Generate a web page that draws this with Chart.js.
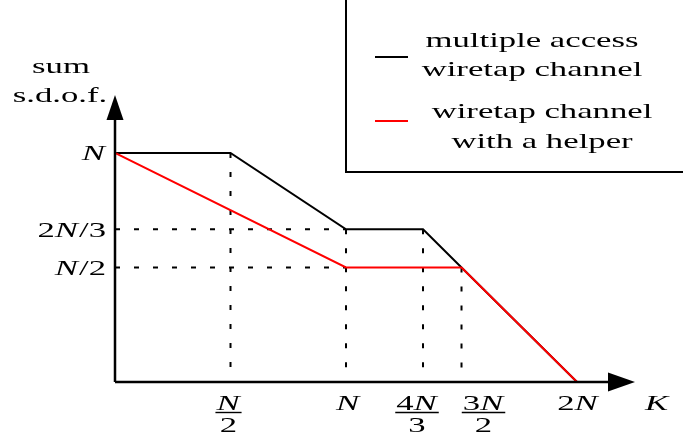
<!DOCTYPE html>
<html>
<head>
<meta charset="utf-8">
<script src="https://cdn.jsdelivr.net/npm/chart.js@4/dist/chart.umd.min.js"></script>
<style>
  html, body { margin: 0; padding: 0; background: #fff; }
  #wrap { width: 683px; height: 438px; position: relative; }
</style>
</head>
<body>
<div id="wrap"><canvas id="sdofChart"></canvas></div>
<script>
// Sum secure d.o.f. versus K (both axes in units of N)

const kBreaks = [0, 0.5, 1, 4/3, 1.5, 2];      // multiple access wiretap channel
const macSdof = [1, 1, 2/3, 2/3, 0.5, 0];
const helperK = [0, 1, 1.5, 2];                // wiretap channel with a helper
const helperSdof = [1, 0.5, 0.5, 0];

const xTickValues = [0.5, 1, 4/3, 1.5, 2];
const xTickLabels = ['N/2', 'N', '4N/3', '3N/2', '2N'];
const yTickValues = [1, 2/3, 0.5];
const yTickLabels = ['N', '2N/3', 'N/2'];

// dotted guide lines
const guideK = [0.5, 1, 4/3, 1.5];
const guideSdof = [1, 2/3, 2/3, 0.5];
const hGuideSdof = [2/3, 0.5];
const hGuideEndK = [1, 1];

const seriesNames = [['multiple access', 'wiretap channel'], ['wiretap channel', 'with a helper']];
const seriesColors = ['#000000', '#ff0000'];

const FONT = '22px "Liberation Serif"';
let S = 1; // horizontal stretch of the text

function drawMath(ctx, str, x, y, align) {
    const runs = str.split('').map(ch => ({ t: ch, it: /[A-Za-z]/.test(ch) }));
    let w = 0;
    runs.forEach(r => {
        ctx.font = (r.it ? 'italic ' : '') + FONT;
        r.w = ctx.measureText(r.t).width * S + (r.it ? 1 : 0);
        w += r.w;
    });
    let cx = align === 'right' ? x - w : align === 'center' ? x - w / 2 : x;
    runs.forEach(r => {
        ctx.font = (r.it ? 'italic ' : '') + FONT;
        ctx.save();
        ctx.translate(cx, y);
        ctx.scale(S, 1);
        ctx.textAlign = 'left';
        ctx.fillText(r.t, 0, 0);
        ctx.restore();
        cx += r.w;
    });
    return w;
}

function drawText(ctx, str, x, y) {
    ctx.font = FONT;
    ctx.save();
    ctx.translate(x, y);
    ctx.scale(S, 1);
    ctx.textAlign = 'center';
    ctx.fillText(str, 0, 0);
    ctx.restore();
}

const xLabelShift = [-2, 2, -6, 22, 1];

const figurePlugin = {
    id: 'figure',
    beforeDatasetsDraw(chart) {
        const ctx = chart.ctx;
        const xs = chart.scales.x, ys = chart.scales.y;
        ctx.save();
        ctx.strokeStyle = '#000';
        ctx.lineWidth = 2;
        ctx.setLineDash([5, 14]);
        guideK.forEach((k, i) => {
            ctx.beginPath();
            ctx.moveTo(xs.getPixelForValue(k), ys.getPixelForValue(guideSdof[i]));
            ctx.lineTo(xs.getPixelForValue(k), ys.getPixelForValue(0));
            ctx.stroke();
        });
        hGuideSdof.forEach((v, i) => {
            ctx.beginPath();
            ctx.moveTo(xs.getPixelForValue(0), ys.getPixelForValue(v));
            ctx.lineTo(xs.getPixelForValue(hGuideEndK[i]), ys.getPixelForValue(v));
            ctx.stroke();
        });
        ctx.restore();
    },
    afterDatasetsDraw(chart) {
        const ctx = chart.ctx;
        const xs = chart.scales.x, ys = chart.scales.y;
        const area = chart.chartArea;
        const x0 = xs.getPixelForValue(0), y0 = ys.getPixelForValue(0);

        ctx.save();
        ctx.font = FONT;
        S = 213 / ctx.measureText('multiple access').width;

        // axes with arrow heads
        ctx.strokeStyle = '#000';
        ctx.fillStyle = '#000';
        ctx.lineWidth = 2.5;
        ctx.beginPath();
        ctx.moveTo(x0, y0);
        ctx.lineTo(area.right - 20, y0);
        ctx.moveTo(x0, y0);
        ctx.lineTo(x0, area.top + 20);
        ctx.stroke();
        ctx.beginPath();
        ctx.moveTo(area.right, y0);
        ctx.lineTo(area.right - 27, y0 - 9.5);
        ctx.lineTo(area.right - 27, y0 + 9.5);
        ctx.closePath();
        ctx.fill();
        ctx.beginPath();
        ctx.moveTo(x0, area.top);
        ctx.lineTo(x0 - 8.5, area.top + 25);
        ctx.lineTo(x0 + 8.5, area.top + 25);
        ctx.closePath();
        ctx.fill();

        // y tick labels
        ctx.textBaseline = 'alphabetic';
        yTickValues.forEach((v, i) => {
            drawMath(ctx, yTickLabels[i], x0 - 9, ys.getPixelForValue(v) + 7.5, 'right');
        });

        // x tick labels (fractions stacked)
        xTickValues.forEach((v, i) => {
            const px = xs.getPixelForValue(v) + xLabelShift[i];
            const parts = xTickLabels[i].split('/');
            if (parts.length === 2) {
                const w = drawMath(ctx, parts[0], px, y0 + 28, 'center');
                drawMath(ctx, parts[1], px, y0 + 50, 'center');
                ctx.lineWidth = 1.4;
                ctx.beginPath();
                ctx.moveTo(px - w / 2 - 1, y0 + 30.5);
                ctx.lineTo(px + w / 2 + 1, y0 + 30.5);
                ctx.stroke();
            } else {
                drawMath(ctx, parts[0], px, y0 + 28, 'center');
            }
        });

        // axis titles
        drawMath(ctx, 'K', 657, y0 + 28, 'center');
        drawText(ctx, 'sum', 61, 73);
        drawText(ctx, 's.d.o.f.', 60, 102);

        // legend box
        ctx.lineWidth = 2;
        ctx.strokeRect(346, -5, 400, 177);
        const sampleY = [57, 121];
        const textCx = [532, 542];
        const textY = [[47, 76], [118, 148]];
        seriesNames.forEach((lines, i) => {
            ctx.strokeStyle = seriesColors[i];
            ctx.lineWidth = 2;
            ctx.beginPath();
            ctx.moveTo(375, sampleY[i]);
            ctx.lineTo(408, sampleY[i]);
            ctx.stroke();
            ctx.fillStyle = '#000';
            lines.forEach((t, j) => drawText(ctx, t, textCx[i], textY[i][j]));
        });
        ctx.restore();
    }
};

new Chart(document.getElementById('sdofChart'), {
    type: 'line',
    data: {
        datasets: [{
            label: 'multiple access wiretap channel',
            data: kBreaks.map((k, i) => ({ x: k, y: macSdof[i] })),
            borderColor: seriesColors[0],
            borderWidth: 2,
            order: 1
        }, {
            label: 'wiretap channel with a helper',
            data: helperK.map((k, i) => ({ x: k, y: helperSdof[i] })),
            borderColor: seriesColors[1],
            borderWidth: 2,
            order: 0
        }]
    },
    options: {
        responsive: true,
        maintainAspectRatio: false,
        animation: false,
        layout: { padding: { left: 115, right: 48, top: 95, bottom: 56 } },
        elements: { point: { radius: 0 }, line: { tension: 0 } },
        plugins: {
            legend: { display: false },
            tooltip: { enabled: false }
        },
        scales: {
            x: { type: 'linear', min: 0, max: 2.251, display: false },
            y: { type: 'linear', min: 0, max: 1.253, display: false }
        }
    },
    plugins: [figurePlugin]
});
</script>
</body>
</html>
